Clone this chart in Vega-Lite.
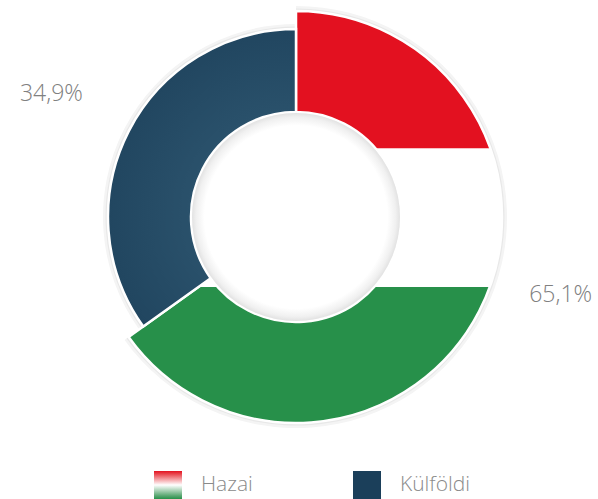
{
  "$schema": "https://vega.github.io/schema/vega-lite/v6.json",
  "autosize": "none",
  "padding": {"left": 0, "top": 0, "right": 6, "bottom": 65},
  "width": 592,
  "height": 434,
  "background": "#ffffff",
  "data": {"values": [
    {"cat": "Hazai", "value": 65.1, "label": "65,1%"},
    {"cat": "Külföldi", "value": 34.9, "label": "34,9%"}
  ]},
  "layer": [
    {
      "mark": {
        "type": "point", "filled": true, "opacity": 0,
        "fill": {"expr": "(datum.value === 'Hazai' || datum.cat === 'Hazai') ? {gradient: 'linear', x1: 0, y1: 0, x2: 0, y2: 1, stops: [{offset: 0, color: '#e31120'}, {offset: 0.12, color: '#ea4a52'}, {offset: 0.5, color: '#ffffff'}, {offset: 0.88, color: '#5aa872'}, {offset: 1, color: '#27904a'}]} : '#1b3f5a'"}
      },
      "encoding": {
        "shape": {
          "field": "cat", "type": "nominal",
          "scale": {"domain": ["Hazai", "Külföldi"], "range": ["square", "square"]},
          "legend": {
            "title": null,
            "orient": "none",
            "legendX": 154,
            "legendY": 471,
            "direction": "horizontal",
            "padding": 0,
            "symbolSize": 784,
            "symbolStrokeWidth": 0,
            "symbolOpacity": 1,
            "labelOffset": 19,
            "columnPadding": 100,
            "labelFont": "Open Sans",
            "labelFontSize": 21,
            "labelColor": "#8a8a8a",
            "labelFontWeight": 300
          }
        }
      }
    },
    {
      "mark": {"type": "arc", "innerRadius": 104, "fill": "#f4f4f4", "radiusOffset": 5},
      "encoding": {
        "theta": {"field": "value", "type": "quantitative", "stack": true},
        "radius": {"field": "value", "type": "quantitative", "scale": {"type": "linear", "domain": [34.9, 65.1], "range": [188, 206], "zero": false}},
        "order": {"field": "cat", "type": "nominal"}
      }
    },
    {
      "mark": {"type": "arc", "innerRadius": 104, "fill": "#e8e8e8", "radiusOffset": 2.5},
      "encoding": {
        "theta": {"field": "value", "type": "quantitative", "stack": true},
        "radius": {"field": "value", "type": "quantitative", "scale": {"type": "linear", "domain": [34.9, 65.1], "range": [188, 206], "zero": false}},
        "order": {"field": "cat", "type": "nominal"}
      }
    },
    {
      "mark": {"type": "arc", "innerRadius": 105, "stroke": "#ffffff", "strokeWidth": 2.5},
      "encoding": {
        "theta": {"field": "value", "type": "quantitative", "stack": true},
        "radius": {"field": "value", "type": "quantitative", "scale": {"type": "linear", "domain": [34.9, 65.1], "range": [188, 206], "zero": false}},
        "order": {"field": "cat", "type": "nominal"},
        "fill": {
          "condition": {"test": "datum.cat === 'Hazai'", "value":
            {"gradient": "linear", "x1": 0, "y1": 0, "x2": 0, "y2": 1, "stops": [
              {"offset": 0, "color": "#e31120"},
              {"offset": 0.333, "color": "#e31120"},
              {"offset": 0.334, "color": "#ffffff"},
              {"offset": 0.669, "color": "#ffffff"},
              {"offset": 0.67, "color": "#27904a"},
              {"offset": 1, "color": "#27904a"}
            ]}
          },
          "value": {"gradient": "radial", "x1": 0.8, "y1": 0.62, "r1": 0, "x2": 0.8, "y2": 0.62, "r2": 0.85, "stops": [
            {"offset": 0, "color": "#345e78"},
            {"offset": 1, "color": "#1a3d57"}
          ]}
        }
      }
    },
    {
      "data": {"values": [{}]},
      "mark": {"type": "arc", "innerRadius": 0, "outerRadius": 104, "fill": {"gradient": "radial", "x1": 0.5, "y1": 0.5, "r1": 0, "x2": 0.5, "y2": 0.5, "r2": 0.5, "stops": [
        {"offset": 0, "color": "#ffffff"},
        {"offset": 0.88, "color": "#ffffff"},
        {"offset": 0.96, "color": "#f0f0f0"},
        {"offset": 1, "color": "#e2e2e2"}
      ]}},
      "encoding": {}
    },
    {
      "mark": {
        "type": "text",
        "font": "Open Sans",
        "fontSize": 23,
        "fontWeight": 300,
        "color": "#808080",
        "align": "center",
        "baseline": "middle",
        "dx": {"expr": "datum.cat === 'Hazai' ? 20 : 0"},
        "dy": {"expr": "datum.cat === 'Hazai' ? -48 : 3"}
      },
      "encoding": {
        "theta": {"field": "value", "type": "quantitative", "stack": true},
        "radius": {"value": 275},
        "text": {"field": "label", "type": "nominal"},
        "order": {"field": "cat", "type": "nominal"}
      }
    }
  ]
}
